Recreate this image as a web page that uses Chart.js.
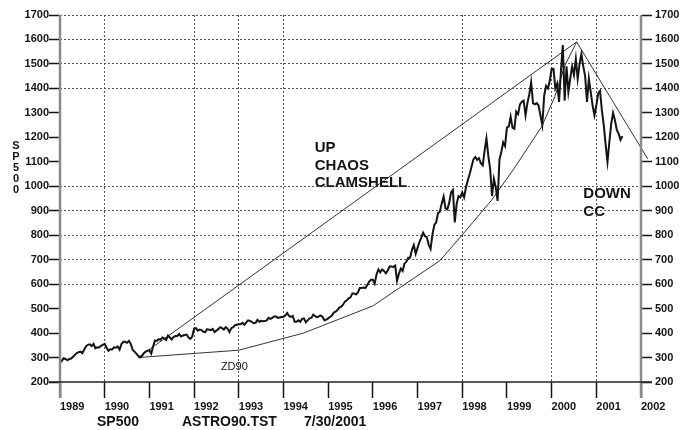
<!DOCTYPE html>
<html>
<head>
<meta charset="utf-8">
<script src="https://cdn.jsdelivr.net/npm/chart.js@4/dist/chart.umd.min.js"></script>
<style>
  html, body { margin: 0; padding: 0; background: #fff; }
  #wrap { width: 686px; height: 430px; }
</style>
</head>
<body>
<div id="wrap"><canvas id="spChart" width="686" height="430"></canvas></div>
<script>
// SP500 (futures), read twice a month (1st and 15th) from Jan 1989 to Aug 2001
const priceStart = 1989;
const sp500 = [
  // 1989
  280, 287, 297, 294, 289, 294, 296, 303, 311, 318, 322, 324, 318, 333, 346, 352, 354, 347, 356, 338, 342, 341, 348, 352,
  // 1990
  356, 340, 328, 334, 333, 342, 340, 345, 332, 355, 364, 364, 360, 368, 356, 332, 324, 316, 307, 300, 306, 318, 324, 328,
  // 1991
  330, 316, 345, 370, 368, 375, 373, 382, 378, 372, 390, 382, 374, 384, 388, 388, 396, 386, 390, 392, 394, 382, 376, 386,
  // 1992
  418, 420, 410, 414, 412, 405, 404, 416, 414, 412, 417, 404, 410, 416, 424, 420, 414, 424, 418, 404, 420, 424, 432, 434,
  // 1993
  436, 436, 442, 434, 444, 452, 450, 446, 440, 442, 454, 446, 450, 448, 449, 452, 462, 458, 462, 468, 468, 462, 464, 466,
  // 1994
  467, 472, 482, 470, 466, 470, 446, 446, 452, 446, 458, 460, 444, 452, 460, 462, 475, 470, 464, 468, 472, 466, 452, 455,
  // 1995
  460, 466, 472, 484, 488, 494, 504, 508, 516, 528, 534, 542, 546, 562, 562, 558, 566, 584, 584, 586, 584, 596, 610, 618,
  // 1996
  618, 602, 640, 660, 648, 660, 654, 644, 656, 672, 672, 670, 676, 614, 642, 664, 654, 684, 692, 708, 708, 740, 760, 724,
  // 1997
  748, 772, 790, 810, 796, 792, 760, 744, 802, 842, 852, 890, 896, 930, 958, 910, 906, 932, 975, 985, 852, 928, 960, 955,
  // 1998
  975, 955, 995, 1025, 1050, 1080, 1110, 1120, 1108, 1115, 1094, 1085, 1145, 1195, 1125, 1070, 960, 1030, 995, 940, 1110, 1140, 1180, 1165,
  // 1999
  1240, 1245, 1285, 1240, 1235, 1305, 1295, 1335, 1345, 1350, 1290, 1340, 1375, 1425, 1340, 1335, 1340, 1330, 1290, 1250, 1370, 1410, 1400, 1430,
  // 2000
  1480, 1480, 1400, 1420, 1345, 1470, 1577, 1350, 1490, 1385, 1440, 1490, 1455, 1520, 1440, 1500, 1540, 1490, 1450, 1345, 1440, 1385, 1330, 1290,
  // 2001
  1330, 1380, 1390, 1310, 1250, 1170, 1100, 1180, 1255, 1300, 1270, 1230, 1215, 1190, 1205
];

// trend lines
const upYears = [1990.75, 2000.56];
const upValues = [300, 1590];
const downYears = [2000.56, 2002.15];
const downValues = [1590, 1112];
const zdYears = [1990.75, 1993.0, 1994.45, 1996.0, 1997.5, 1998.0, 1998.66, 1999.14, 1999.78, 2000.07, 2000.3, 2000.56];
const zdValues = [300, 330, 400, 511, 696, 801, 944, 1067, 1244, 1366, 1495, 1590];

// axes
const years = [1989, 1990, 1991, 1992, 1993, 1994, 1995, 1996, 1997, 1998, 1999, 2000, 2001, 2002];
const gridYears = [1990, 1992, 1993, 1994, 1998, 2000, 2001];
const gridLevels = [600, 700, 800, 900, 1000, 1400, 1500, 1600, 1700];

const tickFont = { family: "'Liberation Sans', Arial, sans-serif", size: 11, weight: 'bold' };
const ink = '#141414';

function pts(xs, ys) {
    return xs.map((x, i) => ({ x: x, y: ys[i] }));
}

// extra text and axis lines drawn on top
const overlay = {
    id: 'overlay',
    afterDraw(chart) {
        const ctx = chart.ctx;
        const a = chart.chartArea;
        const x = chart.scales.x;
        const y = chart.scales.y;
        ctx.save();

        ctx.strokeStyle = '#8a8a8a';
        ctx.lineWidth = 2.5;
        ctx.beginPath();
        ctx.moveTo(a.left, a.top);
        ctx.lineTo(a.left, a.bottom + 16);
        ctx.moveTo(a.right, a.top);
        ctx.lineTo(a.right, a.bottom + 16);
        ctx.stroke();

        ctx.strokeStyle = '#222';
        ctx.lineWidth = 1.5;
        ctx.beginPath();
        ctx.moveTo(a.left - 11, a.bottom);
        ctx.lineTo(a.right + 11, a.bottom);
        ctx.stroke();

        ctx.fillStyle = ink;
        ctx.textBaseline = 'middle';
        ctx.textAlign = 'left';
        ctx.font = "bold 15px 'Liberation Sans', Arial, sans-serif";
        ctx.fillText('UP', x.getPixelForValue(1994.7), y.getPixelForValue(1156));
        ctx.fillText('CHAOS', x.getPixelForValue(1994.7), y.getPixelForValue(1084));
        ctx.fillText('CLAMSHELL', x.getPixelForValue(1994.7), y.getPixelForValue(1013));
        ctx.fillText('DOWN', x.getPixelForValue(2000.71), y.getPixelForValue(971));
        ctx.fillText('CC', x.getPixelForValue(2000.71), y.getPixelForValue(894));

        ctx.font = "11px 'Liberation Sans', Arial, sans-serif";
        ctx.fillText('ZD90', x.getPixelForValue(1992.6), y.getPixelForValue(263));

        ctx.font = "bold 14px 'Liberation Sans', Arial, sans-serif";
        ctx.fillText('SP500', 97, 422);
        ctx.fillText('ASTRO90.TST', 182, 422);
        ctx.fillText('7/30/2001', 304, 422);

        // vertical axis title, one letter per row
        ctx.font = "bold 11px 'Liberation Sans', Arial, sans-serif";
        ctx.textAlign = 'center';
        'SP500'.split('').forEach((ch, i) => ctx.fillText(ch, 16, 146 + i * 11));

        ctx.restore();
    }
};

document.addEventListener('DOMContentLoaded', function() {
    const ctx = document.getElementById('spChart').getContext('2d');
    const chart = new Chart(ctx, {
        type: 'scatter',
        data: {
            datasets: [
                {
                    label: 'SP500',
                    data: sp500.map((v, i) => ({ x: priceStart + i / 24, y: v })),
                    showLine: true,
                    borderColor: ink,
                    borderWidth: 2,
                    pointRadius: 0,
                    tension: 0
                },
                {
                    label: 'UP CHAOS CLAMSHELL',
                    data: pts(upYears, upValues),
                    showLine: true,
                    borderColor: '#333',
                    borderWidth: 1,
                    pointRadius: 0
                },
                {
                    label: 'DOWN CC',
                    data: pts(downYears, downValues),
                    showLine: true,
                    borderColor: '#333',
                    borderWidth: 1,
                    pointRadius: 0,
                    clip: false
                },
                {
                    label: 'ZD90',
                    data: pts(zdYears, zdValues),
                    showLine: true,
                    borderColor: '#333',
                    borderWidth: 1,
                    pointRadius: 0
                }
            ]
        },
        options: {
            responsive: false,
            animation: false,
            layout: { padding: { top: 15, left: 0, right: 0, bottom: 0 } },
            plugins: {
                legend: { display: false },
                tooltip: { enabled: false }
            },
            scales: {
                x: {
                    type: 'linear',
                    min: 1989,
                    max: 2002,
                    afterBuildTicks: s => { s.ticks = years.map(v => ({ value: v })); },
                    afterFit: s => { s.height = 48; },
                    ticks: {
                        autoSkip: false,
                        maxRotation: 0,
                        align: 'start',
                        padding: 2,
                        color: ink,
                        font: tickFont,
                        callback: v => String(v)
                    },
                    grid: {
                        color: c => gridYears.includes(c.tick && c.tick.value) ? '#555' : 'rgba(0,0,0,0)',
                        lineWidth: 1,
                        tickColor: ink,
                        tickWidth: 1.5,
                        tickLength: 16
                    },
                    border: { display: false, dash: [2, 2] }
                },
                y: {
                    position: 'left',
                    min: 200,
                    max: 1700,
                    afterFit: s => { s.width = 60; },
                    ticks: { stepSize: 100, padding: 0, color: ink, font: tickFont, callback: v => String(v) },
                    grid: {
                        color: c => gridLevels.includes(c.tick && c.tick.value) ? '#555' : 'rgba(0,0,0,0)',
                        lineWidth: 1,
                        tickColor: ink,
                        tickWidth: 1.5,
                        tickLength: 11
                    },
                    border: { display: false, dash: [2, 2] }
                },
                y2: {
                    position: 'right',
                    min: 200,
                    max: 1700,
                    afterFit: s => { s.width = 45; },
                    ticks: { stepSize: 100, padding: 3, color: ink, font: tickFont, callback: v => String(v) },
                    grid: {
                        drawOnChartArea: false,
                        tickColor: ink,
                        tickWidth: 1.5,
                        tickLength: 11
                    },
                    border: { display: false }
                }
            }
        },
        plugins: [overlay]
    });
});
</script>
</body>
</html>
